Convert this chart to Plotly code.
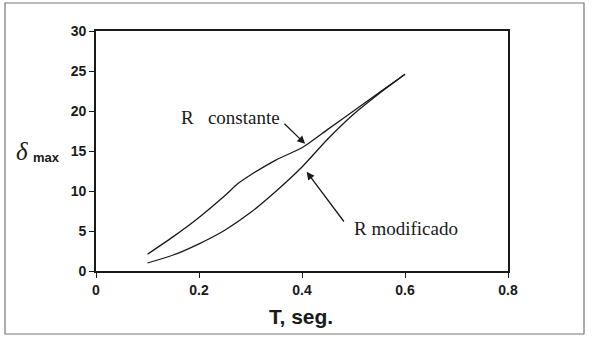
import plotly.graph_objects as go

# Period T (s) and maximum ductility for the two strength criteria
t_const = [0.10, 0.15, 0.20, 0.25, 0.275, 0.30, 0.35, 0.40, 0.45, 0.50, 0.55, 0.60]
d_const = [2.1, 4.3, 6.7, 9.4, 10.9, 12.0, 13.9, 15.4, 17.7, 20.0, 22.3, 24.6]

t_mod = [0.10, 0.15, 0.20, 0.25, 0.30, 0.35, 0.40, 0.45, 0.50, 0.55, 0.60]
d_mod = [1.0, 2.0, 3.4, 5.1, 7.3, 10.0, 13.0, 16.5, 19.6, 22.2, 24.6]

x_ticks = [0, 0.2, 0.4, 0.6, 0.8]
x_tick_text = ["0", "0.2", "0.4", "0.6", "0.8"]
y_ticks = [0, 5, 10, 15, 20, 25, 30]

ink = "#1a1a1a"
sans = "Liberation Sans"
serif = "Liberation Serif"

fig = go.Figure()
for t, d in ((t_const, d_const), (t_mod, d_mod)):
    fig.add_trace(go.Scatter(
        x=t, y=d, mode="lines",
        line=dict(color=ink, width=1.3, shape="spline", smoothing=0.6),
        showlegend=False, hoverinfo="skip",
    ))

axis_common = dict(
    showgrid=False, zeroline=False, showline=True, linecolor=ink, linewidth=1.6,
    mirror=True, ticks="outside", ticklen=5, tickcolor=ink, tickwidth=1,
    tickfont=dict(family=sans, size=14, color=ink, weight="bold"),
)
fig.update_xaxes(range=[0, 0.8], tickvals=x_ticks, ticktext=x_tick_text, **axis_common)
fig.update_yaxes(range=[0, 30], tickvals=y_ticks, **axis_common)

annotations = [
    # curve labels
    dict(x=0.361, y=19.2, xref="x", yref="y", text="R   constante", showarrow=False,
         xanchor="right", yanchor="middle", font=dict(family=serif, size=19, color=ink)),
    dict(x=0.406, y=15.9, xref="x", yref="y", ax=0.363, ay=18.6, axref="x", ayref="y",
         text="", showarrow=True, arrowhead=2, arrowsize=1.2, arrowwidth=1.3, arrowcolor=ink),
    dict(x=0.497, y=5.35, xref="x", yref="y", text="R modificado", showarrow=False,
         xanchor="left", yanchor="middle", font=dict(family=serif, size=19, color=ink)),
    dict(x=0.409, y=12.4, xref="x", yref="y", ax=0.4835, ay=6.0, axref="x", ayref="y",
         text="", showarrow=True, arrowhead=2, arrowsize=1.2, arrowwidth=1.3, arrowcolor=ink),
    # axis titles
    dict(x=(301 - 96) / 412, y=(271 - 316) / 240, xref="paper", yref="paper",
         text="<b>T, seg.</b>", showarrow=False, xanchor="center", yanchor="middle",
         font=dict(family=sans, size=21, color=ink)),
    dict(x=(30 - 96) / 412, y=(271 - 151) / 240, xref="paper", yref="paper",
         text="<i>δ</i>", showarrow=False, xanchor="right", yanchor="middle",
         font=dict(family=serif, size=25, color=ink)),
    dict(x=(31 - 96) / 412, y=(271 - 157) / 240, xref="paper", yref="paper",
         text="<b>max</b>", showarrow=False, xanchor="left", yanchor="middle",
         font=dict(family=sans, size=13, color=ink)),
]

# outer frame around the whole chart
shapes = [dict(type="rect", xref="paper", yref="paper",
               x0=(5 - 96) / 412, x1=(584 - 96) / 412,
               y0=(271 - 334) / 240, y1=(271 - 3) / 240,
               line=dict(color="#777777", width=1.2), fillcolor="rgba(0,0,0,0)")]

fig.update_layout(
    width=592, height=340,
    margin=dict(l=96, r=84, t=31, b=69),
    paper_bgcolor="white", plot_bgcolor="white",
    annotations=annotations, shapes=shapes,
)

fig.write_html("out.html")
